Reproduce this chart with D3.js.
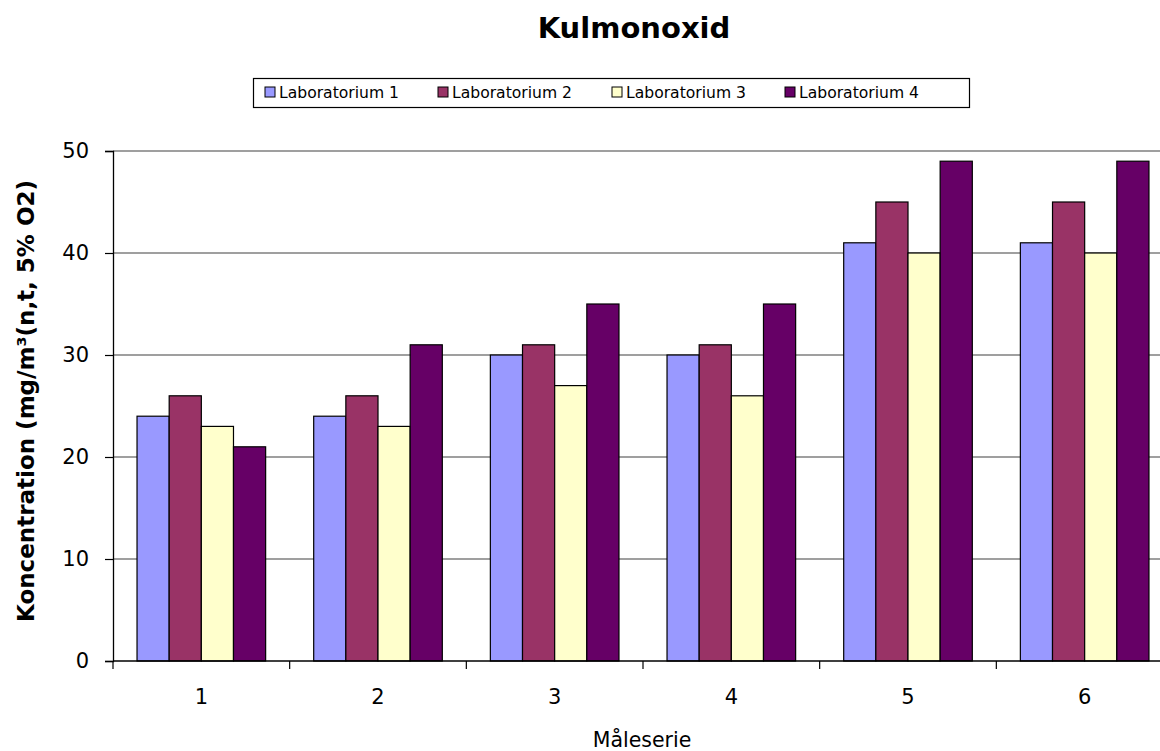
<!DOCTYPE html>
<html>
<head>
<meta charset="utf-8">
<script src="https://cdn.jsdelivr.net/npm/d3@7/dist/d3.min.js"></script>
<style>
  html, body { margin: 0; padding: 0; background: #fff; }
  svg { display: block; }
  text { font-family: "DejaVu Sans", Verdana, sans-serif; fill: #000; }
</style>
</head>
<body>
<svg id="chart" width="1160" height="751"></svg>
<script>
// Data
const categories = ["1", "2", "3", "4", "5", "6"];
const seriesNames = ["Laboratorium 1", "Laboratorium 2", "Laboratorium 3", "Laboratorium 4"];
const lab1 = [24, 24, 30, 30, 41, 41];
const lab2 = [26, 26, 31, 31, 45, 45];
const lab3 = [23, 23, 27, 26, 40, 40];
const lab4 = [21, 31, 35, 35, 49, 49];
const yTicks = [0, 10, 20, 30, 40, 50];
const colors = ["#9999FF", "#993366", "#FFFFCC", "#660066"];

const series = [lab1, lab2, lab3, lab4];
const rows = categories.map((c, i) => ({ cat: c, values: series.map(s => s[i]) }));

const svg = d3.select("#chart");
const plotLeft = 113, plotRight = 1173, plotTop = 151, plotBottom = 661;

const x = d3.scaleBand().domain(categories).range([plotLeft, plotRight]).paddingInner(0.272).paddingOuter(0.136);
const xi = d3.scaleBand().domain(d3.range(seriesNames.length)).range([0, x.bandwidth()]);
const y = d3.scaleLinear().domain([0, 50]).range([plotBottom, plotTop]);

// Gridlines
svg.append("g").selectAll("line").data(yTicks.filter(d => d > 0)).join("line")
  .attr("x1", plotLeft).attr("x2", 1160)
  .attr("y1", d => y(d)).attr("y2", d => y(d))
  .attr("stroke", "#7f7f7f").attr("stroke-width", 1.3);

// Bars
const groups = svg.append("g").selectAll("g").data(rows).join("g")
  .attr("transform", d => `translate(${x(d.cat)},0)`);
groups.selectAll("rect").data(d => d.values.map((v, k) => ({ v, k }))).join("rect")
  .attr("x", d => xi(d.k))
  .attr("width", xi.bandwidth())
  .attr("y", d => y(d.v))
  .attr("height", d => y(0) - y(d.v))
  .attr("fill", d => colors[d.k])
  .attr("stroke", "#000").attr("stroke-width", 1.2);

// Y axis
const yAxis = d3.axisLeft(y).tickValues(yTicks).tickSize(8).tickPadding(16);
const gy = svg.append("g").attr("transform", `translate(${plotLeft},0)`).call(yAxis);
gy.select(".domain").attr("stroke", "#000").attr("stroke-width", 1.3);
gy.selectAll(".tick line").attr("stroke", "#000").attr("stroke-width", 1.2);
gy.selectAll(".tick text").attr("font-size", 21).attr("font-family", "DejaVu Sans, Verdana, sans-serif").attr("fill", "#000");

// X axis: ticks at category boundaries, labels at centers
svg.append("line").attr("x1", plotLeft).attr("x2", 1160).attr("y1", plotBottom).attr("y2", plotBottom)
  .attr("stroke", "#000").attr("stroke-width", 1.3);
const step = x.step();
const boundaries = d3.range(categories.length + 1).map(i => plotLeft + i * step);
svg.append("g").selectAll("line").data(boundaries).join("line")
  .attr("x1", d => d).attr("x2", d => d)
  .attr("y1", plotBottom).attr("y2", plotBottom + 8)
  .attr("stroke", "#000").attr("stroke-width", 1.2);
svg.append("g").selectAll("text").data(categories).join("text")
  .attr("x", d => x(d) + x.bandwidth() / 2)
  .attr("y", 704)
  .attr("text-anchor", "middle")
  .attr("font-size", 21)
  .text(d => d);

// Axis titles
svg.append("text").attr("x", 642).attr("y", 747).attr("text-anchor", "middle")
  .attr("font-size", 20.5).text("Måleserie");
svg.append("text")
  .attr("transform", `translate(34,401) rotate(-90)`)
  .attr("text-anchor", "middle")
  .attr("font-size", 23).attr("font-weight", "bold")
  .text("Koncentration (mg/m³(n,t, 5% O2)");

// Title
svg.append("text").attr("x", 634).attr("y", 38).attr("text-anchor", "middle")
  .attr("font-size", 29).attr("font-weight", "bold").text("Kulmonoxid");

// Legend
const legend = svg.append("g");
legend.append("rect").attr("x", 253.5).attr("y", 78.5).attr("width", 716).attr("height", 29)
  .attr("fill", "#fff").attr("stroke", "#000").attr("stroke-width", 1.2);
const legendX = [265, 438, 612, 785];
const items = legend.selectAll("g").data(seriesNames).join("g")
  .attr("transform", (d, i) => `translate(${legendX[i]},87)`);
items.append("rect").attr("width", 10).attr("height", 10)
  .attr("fill", (d, i) => colors[i]).attr("stroke", "#000").attr("stroke-width", 1);
items.append("text").attr("x", 14).attr("y", 10.5).attr("font-size", 15.6)
  .text(d => d);
</script>
</body>
</html>
